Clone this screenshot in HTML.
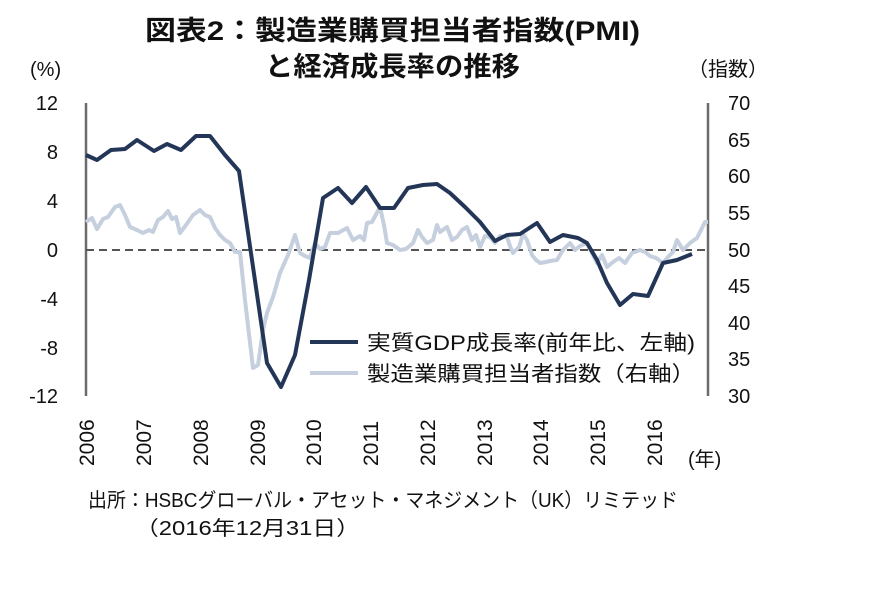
<!DOCTYPE html>
<html><head><meta charset="utf-8"><style>
body{margin:0;background:#fff;}
svg{display:block;font-family:"Liberation Sans","Noto Sans CJK JP",sans-serif;}
</style></head><body>
<svg width="870" height="608" viewBox="0 0 870 608">
<text x="145" y="40" font-size="27" font-weight="bold" textLength="495" lengthAdjust="spacingAndGlyphs" fill="#111">図表2：製造業購買担当者指数(PMI)</text>
<text x="265" y="76" font-size="27" font-weight="bold" textLength="255" lengthAdjust="spacingAndGlyphs" fill="#111">と経済成長率の推移</text>
<text x="30" y="76" font-size="20" fill="#111">(%)</text>
<text x="688" y="76" font-size="20" fill="#111">（指数）</text>
<g font-size="20" fill="#111" text-anchor="end">
<text x="58" y="110">12</text><text x="58" y="159">8</text><text x="58" y="208">4</text><text x="58" y="257">0</text>
<text x="58" y="306">-4</text><text x="58" y="355">-8</text><text x="58" y="403">-12</text>
</g>
<g font-size="20" fill="#111">
<text x="728" y="110">70</text><text x="728" y="147">65</text><text x="728" y="183">60</text><text x="728" y="220">55</text>
<text x="728" y="257">50</text><text x="728" y="293">45</text><text x="728" y="330">40</text><text x="728" y="366">35</text><text x="728" y="403">30</text>
</g>
<line x1="86" y1="103" x2="86" y2="396" stroke="#6b6b6b" stroke-width="2.5"/>
<line x1="708" y1="103" x2="708" y2="396" stroke="#6b6b6b" stroke-width="2.5"/>
<line x1="86" y1="250" x2="708" y2="250" stroke="#555" stroke-width="2" stroke-dasharray="8,5"/>
<polyline fill="none" stroke="#c5cfdd" stroke-width="4" stroke-linejoin="round" points="86,222 92,218 97,229 103,219 108,217 115,207 120,205 125,215 130,227 137,230 143,233 149,230 153,232 158,220 163,217 168,211 172,219 176,217 180,233 186,225 193,215 200,210 205,215 210,217 215,228 220,235 225,240 230,243 235,252 240,252 245,300 253,368 258,365 263,330 267,313 273,297 280,273 288,255 295,235 300,253 305,256 310,258 315,243 320,249 325,247 330,233 338,233 347,228 353,240 360,236 364,240 367,223 372,222 380,207 384,225 387,243 393,245 400,250 406,249 413,243 418,230 422,237 427,243 433,240 437,225 440,232 447,227 452,240 457,237 462,230 467,227 472,240 476,235 480,247 485,236 490,237 495,243 500,236 507,237 510,246 513,253 519,247 523,234 527,240 532,255 536,260 540,263 546,262 550,261 557,260 563,250 570,243 575,250 580,246 587,243 592,253 597,263 602,255 607,267 613,262 619,258 625,263 632,253 640,250 645,252 650,256 656,258 663,263 668,257 673,252 677,240 683,250 690,243 697,238 701,230 705,222 708,222"/>
<polyline fill="none" stroke="#243657" stroke-width="4" stroke-linejoin="round" points="86,155 97,160 111,150 125,149 137,140 154,151 167,144 181,150 196,136 210,136 225,155 239,171 252,260 267,363 281,387 295,355 309,280 323,198 338,188 352,203 366,187 380,208 394,208 408,188 423,185 437,184 450,193 465,207 480,222 495,241 507,235 520,234 537,223 550,242 563,235 578,238 587,243 597,260 607,283 620,305 633,294 648,296 663,263 677,260 692,254"/>
<line x1="310" y1="342" x2="358" y2="342" stroke="#243657" stroke-width="4"/>
<line x1="310" y1="373" x2="358" y2="373" stroke="#c5cfdd" stroke-width="4"/>
<text x="367" y="350" font-size="21" fill="#111" textLength="328" lengthAdjust="spacingAndGlyphs">実質GDP成長率(前年比、左軸)</text>
<text x="367" y="381" font-size="21" fill="#111" textLength="328" lengthAdjust="spacingAndGlyphs">製造業購買担当者指数（右軸）</text>
<g font-size="21" fill="#111">
<text transform="translate(94,466) rotate(-90)">2006</text>
<text transform="translate(151,466) rotate(-90)">2007</text>
<text transform="translate(208,466) rotate(-90)">2008</text>
<text transform="translate(265,466) rotate(-90)">2009</text>
<text transform="translate(321,466) rotate(-90)">2010</text>
<text transform="translate(378,466) rotate(-90)">2011</text>
<text transform="translate(435,466) rotate(-90)">2012</text>
<text transform="translate(492,466) rotate(-90)">2013</text>
<text transform="translate(548,466) rotate(-90)">2014</text>
<text transform="translate(605,466) rotate(-90)">2015</text>
<text transform="translate(662,466) rotate(-90)">2016</text>
</g>
<text x="688" y="466" font-size="20" fill="#111">(年)</text>
<text x="88" y="507" font-size="20" fill="#111" textLength="590" lengthAdjust="spacingAndGlyphs">出所：HSBCグローバル・アセット・マネジメント（UK）リミテッド</text>
<text x="135" y="535" font-size="20" fill="#111" textLength="225" lengthAdjust="spacingAndGlyphs">（2016年12月31日）</text>
</svg>
</body></html>
